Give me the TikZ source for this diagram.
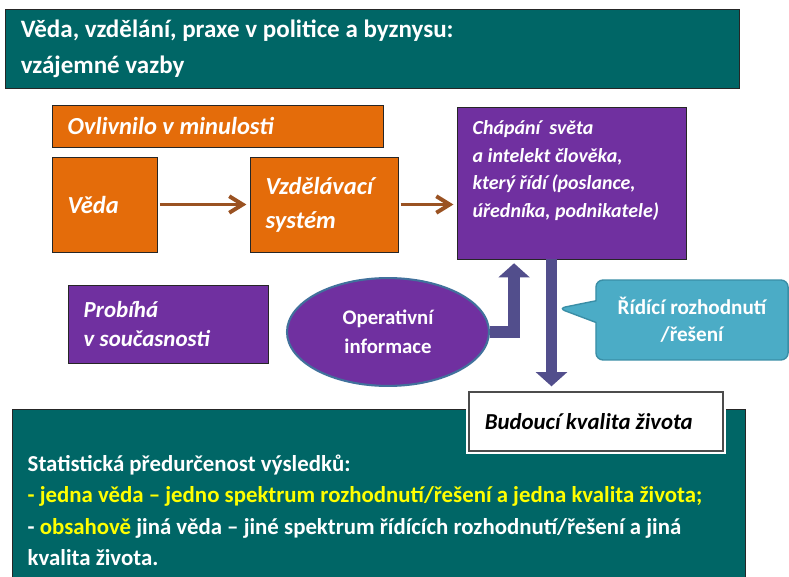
\documentclass[tikz,border=0pt]{standalone}
\usepackage{fontspec}
\setmainfont{Carlito}
\usepackage{tikz}
\usetikzlibrary{shapes.geometric,shapes.callouts,arrows.meta,positioning,calc}
\definecolor{tealbox}{HTML}{006666}
\definecolor{orangebox}{HTML}{E46C0A}
\definecolor{purplebox}{HTML}{7030A0}
\definecolor{calloutblue}{HTML}{4BACC6}
\definecolor{calloutedge}{HTML}{3A8EA6}
\definecolor{ellipseedge}{HTML}{41719C}
\definecolor{slatearrow}{HTML}{524E8C}
\definecolor{brownarrow}{HTML}{9A5222}
\definecolor{hiyellow}{HTML}{FFFF00}

\tikzset{
  every node/.append style={execute at begin node={\spaceskip=\fontdimen2\font\relax}},
  basebox/.style={rectangle, draw=black!85, line width=0.5pt, text=white, align=left, inner xsep=4mm, inner ysep=0pt},
  tealpanel/.style={basebox, fill=tealbox},
  orangebox/.style={basebox, fill=orangebox, font=\itshape\bfseries\fontsize{17.7}{24.5}\selectfont},
  purplebox/.style={basebox, fill=purplebox},
  flowarrow/.style={draw=brownarrow, line width=1mm, -{Straight Barb[length=3.4mm,width=4.2mm]}, shorten <=0.6mm, shorten >=0.8mm},
  blockarrow/.style={draw=slatearrow, line width=3mm, line join=miter, -{Triangle[length=3.6mm,width=7.8mm]}}
}

\begin{document}
\begin{tikzpicture}[x=0.254mm, y=-0.254mm]
\useasboundingbox (0,0) rectangle (789,577);
\clip (0,0) rectangle (789,577);
\fill[white] (0,0) rectangle (789,577);

% heading
\node[tealpanel, text width=178.4mm, minimum height=20.07mm, font=\bfseries\fontsize{18.1}{26}\selectfont] (title) at (372,48.5)
  {Věda, vzdělání, praxe v politice a byznysu:\\vzájemné vazby};

% past influence
\node[orangebox, text width=76.1mm, minimum height=10.67mm] (past) at (217.5,126) {Ovlivnilo v minulosti};
\node[orangebox, text width=18.7mm, minimum height=24.13mm] (veda) at (104.5,204.5) {Věda};
\node[orangebox, text width=29.6mm, minimum height=24.13mm, right=23.4mm of veda] (vzdel) {Vzdělávací\\systém};
\node[purplebox, text width=50.2mm, minimum height=38.6mm, font=\itshape\bfseries\fontsize{14.4}{20.2}\selectfont] (chapani) at (571.5,183)
  {Chápání~ světa\\a intelekt člověka,\\který řídí (poslance,\\úředníka, podnikatele)\\\mbox{}};

% present
\node[purplebox, text width=42.8mm, minimum height=19.81mm, font=\itshape\bfseries\fontsize{16.6}{21}\selectfont] (soucas) at (168,324)
  {Probíhá\\v současnosti};
\node[ellipse, fill=purplebox, draw=ellipseedge, line width=1.5pt, minimum width=51.3mm, minimum height=27.4mm, inner sep=0pt,
  text=white, align=center, font=\bfseries\fontsize{15}{21}\selectfont] (info) at (388,332) {Operativní\\informace};

% results
\node[tealpanel, text width=178.2mm, minimum height=51.56mm, font=\bfseries\fontsize{16.5}{22.7}\selectfont] (stats) at (378.5,510.5)
  {Statistická předurčenost výsledků:\\
   \textcolor{hiyellow}{- jedna věda – jedno spektrum rozhodnutí/řešení a jedna kvalita života;}\\
   - \textcolor{hiyellow}{obsahově} jiná věda – jiné spektrum řídících rozhodnutí/řešení a jiná\\
   kvalita života.};
\node[basebox, draw=black!70, line width=0.8pt, preaction={draw=white, line width=1.6mm}, fill=white, text=black,
  text width=56.5mm, minimum height=15mm, font=\itshape\bfseries\fontsize{16.5}{20}\selectfont] (future) at (596,421.5)
  {Budoucí kvalita života};

% arrows
\coordinate (upend) at ($(chapani.south west)!0.25!(chapani.south east)$);
\coordinate (downtop) at ($(chapani.south west)!0.413!(chapani.south east)$);
\draw[flowarrow] (veda) -- (vzdel);
\draw[flowarrow] (vzdel.east) -- (vzdel.east -| chapani.west);
\draw[blockarrow, shorten >=1mm] (info.east) -| (upend);
\draw[blockarrow, shorten >=1.3mm] (downtop) -- (downtop |- future.north);

\node[rectangle callout, rounded corners=1.8mm, fill=calloutblue, draw=calloutedge, line width=1pt,
  minimum width=48.8mm, minimum height=20.3mm, inner sep=0pt, text=white, align=center,
  font=\bfseries\fontsize{15.3}{19.4}\selectfont,
  callout absolute pointer={($(downtop)+(7,49)$)}, callout pointer width=5.5mm] (decide) at (692,320)
  {Řídící rozhodnutí\\/řešení};
\end{tikzpicture}
\end{document}
